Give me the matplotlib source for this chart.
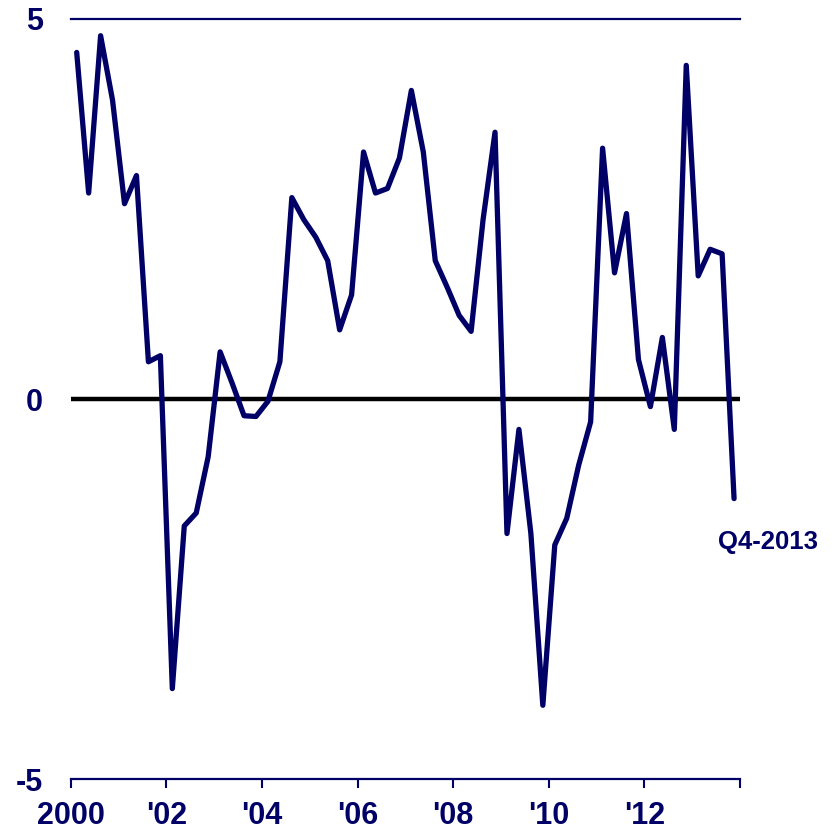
import matplotlib
matplotlib.use("Agg")
import matplotlib.pyplot as plt
import numpy as np

# Quarterly values, Q1-2000 .. Q4-2013
values = [
    4.56, 2.71, 4.78, 3.93,   # 2000
    2.57, 2.94, 0.49, 0.57,   # 2001
    -3.81, -1.67, -1.50, -0.76,  # 2002
    0.62, 0.21, -0.22, -0.23,  # 2003
    -0.03, 0.49, 2.65, 2.36,  # 2004
    2.13, 1.82, 0.91, 1.37,   # 2005
    3.25, 2.71, 2.77, 3.17,   # 2006
    4.06, 3.25, 1.82, 1.47,   # 2007
    1.10, 0.89, 2.36, 3.51,   # 2008
    -1.77, -0.40, -1.77, -4.03,  # 2009
    -1.92, -1.57, -0.87, -0.30,  # 2010
    3.30, 1.66, 2.44, 0.52,   # 2011
    -0.10, 0.81, -0.40, 4.39,  # 2012
    1.62, 1.97, 1.91, -1.31,  # 2013
]
start_year = 2000
tick_years = [2000, 2002, 2004, 2006, 2008, 2010, 2012, 2014]
tick_labels = ["2000", "'02", "'04", "'06", "'08", "'10", "'12", ""]
y_ticks = [-5, 0, 5]
y_labels = ["-5", "0", "5"]
end_label = "Q4-2013"

navy = "#000066"
plt.rcParams['font.family'] = ['Liberation Sans', 'DejaVu Sans']

x = start_year + (np.arange(len(values)) + 0.5) / 4.0

fig = plt.figure(figsize=(8.38, 8.33), dpi=100)
ax = fig.add_axes([0.0844, 0.0648, 0.7987, 0.9124])

ax.axhline(0, color="black", lw=3.2, zorder=2)
ax.plot(x, values, color=navy, lw=3.8, solid_joinstyle="round",
        solid_capstyle="round", zorder=3)

ax.set_xlim(2000, 2014)
ax.set_ylim(-5, 5)

for s in ["left", "right"]:
    ax.spines[s].set_visible(False)
ax.spines["bottom"].set_color(navy)
ax.spines["bottom"].set_linewidth(1.6)
ax.spines["top"].set_color(navy)
ax.spines["top"].set_linewidth(1.6)

ax.set_xticks(tick_years)
ax.set_xticklabels(tick_labels)
ax.set_yticks(y_ticks)
ax.set_yticklabels(y_labels)
ax.tick_params(axis="x", direction="out", length=6.5, width=1.5, color=navy,
               pad=9, labelsize=22, labelcolor=navy)
ax.tick_params(axis="y", length=0, pad=20, labelsize=22, labelcolor=navy)
for lab in ax.get_xticklabels() + ax.get_yticklabels():
    lab.set_fontweight("bold")

ax.text(2013.535, -1.88, end_label, color=navy, fontsize=18.5, fontweight="bold",
        ha="left", va="center", clip_on=False)

fig.savefig("out.png", dpi=100)
